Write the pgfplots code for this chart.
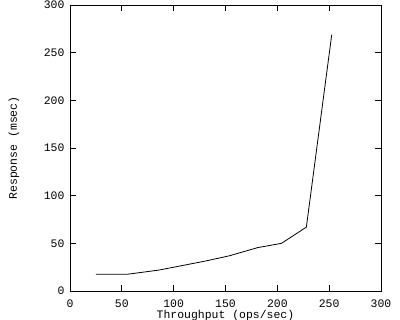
\documentclass[border=0pt]{standalone}
\usepackage{pgfplots}
\pgfplotsset{compat=1.18}
\usepackage{fontspec}
\setmainfont{Liberation Mono}
\begin{document}
\begin{tikzpicture}[x=1bp,y=1bp]
\useasboundingbox (-70bp,-29bp) rectangle (330bp,291bp);
\begin{axis}[
  at={(0,0)}, anchor=south west,
  scale only axis, width=311bp, height=286bp,
  xmin=0, xmax=300, ymin=0, ymax=300,
  xtick={0,50,...,300}, ytick={0,50,...,300},
  tick align=inside, major tick length=6bp,
  axis line style={line width=0.8bp},
  every tick/.style={line width=0.8bp, black},
  /pgf/number format/assume math mode=true,
  tick label style={font=\fontsize{11.5}{13}\selectfont},
  label style={font=\fontsize{11.5}{13}\selectfont},
  xticklabel style={yshift=-5bp},
  yticklabel style={xshift=-2bp},
  xlabel={Throughput (ops/sec)},
  ylabel={Response (msec)},
  xlabel style={at={(axis description cs:0.5,0)}, anchor=center, yshift=-24.5bp},
  ylabel style={at={(axis description cs:-0.18,0.5)}, anchor=center},
]
\addplot[black, line width=0.8bp, mark=none] coordinates {
(25,17.5) (55,17.5) (86,22) (105,26) (131,31.5) (154,37) (181,45.5) (204,50) (228,67) (252.5,269)
};
\end{axis}
\end{tikzpicture}
\end{document}
